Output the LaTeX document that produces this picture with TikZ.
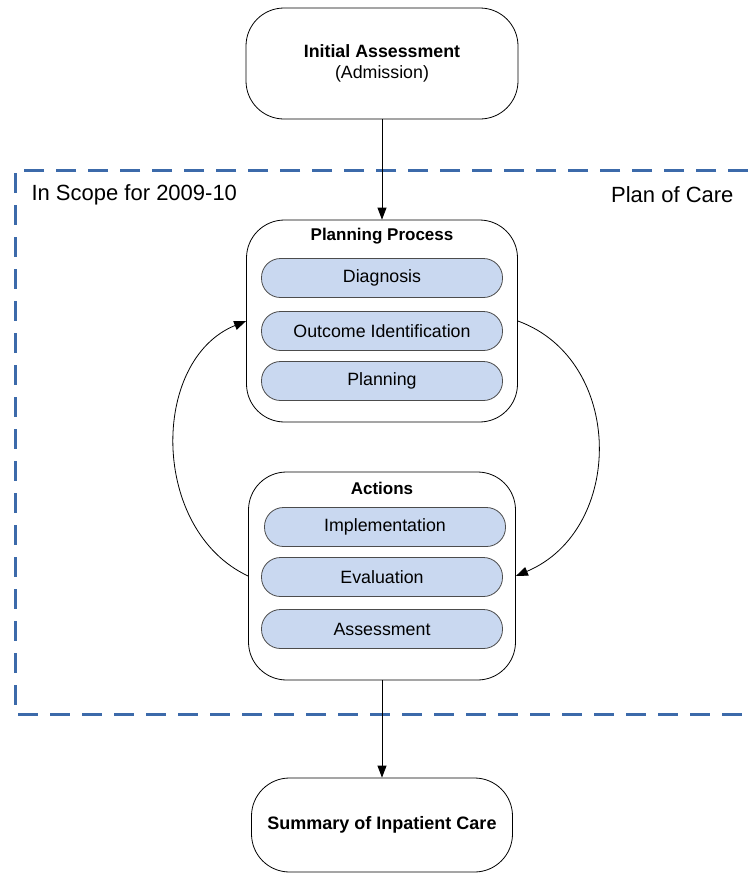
\documentclass[tikz,border=0pt]{standalone}
\usepackage{fontspec}
\setmainfont{Liberation Sans}
\usetikzlibrary{arrows.meta,positioning}

\definecolor{scopeblue}{RGB}{60,106,170}
\definecolor{pillblue}{RGB}{201,216,240}

\tikzset{
  stagebox/.style={draw, line width=0.8pt, rounded corners=38pt},
  pill/.style={draw=black!70, line width=0.8pt, fill=pillblue, rounded corners=19pt,
    minimum width=241pt, minimum height=39pt, font=\fontsize{17.8}{21}\selectfont},
  boxtitle/.style={font=\fontsize{17}{20}\selectfont\bfseries},
  flow/.style={line width=0.8pt, -{Triangle[length=12pt,width=9pt]}},
  scopeline/.style={draw=scopeblue, line width=3pt, dash pattern=on 20pt off 12pt}
}

\begin{document}
\begin{tikzpicture}[x=1pt,y=-1pt]
    \useasboundingbox[fill=white] (0,0) rectangle (748,873);

    % scope frame
    \draw [scopeline] (748,170) -- (15,170) -- (15,714) -- (748,714);
    \node [anchor=west, font=\fontsize{22}{26}\selectfont] (scopelbl) at (28,195) {In Scope for 2009-10};
    \node [anchor=east, font=\fontsize{22}{26}\selectfont] (carelbl) at (737,195) {Plan of Care};

    \node [stagebox, minimum width=272pt, minimum height=111pt, align=center,
      font=\fontsize{17.8}{21}\selectfont] (initial) at (382,63.5)
    {\textbf{Initial Assessment}\\(Admission)};

    % planning process
    \node [stagebox, minimum width=271pt, minimum height=202pt] (planbox) at (382,321) {};
    \node [boxtitle] (plantitle) at (382,236) {Planning Process};
    \node [pill] (diag) at (382,278) {Diagnosis};
    \node [pill] (outcome) at (382,331) {Outcome Identification};
    \node [pill] (planning) at (382,381) {Planning};

    % actions
    \node [stagebox, minimum width=267pt, minimum height=208pt] (actbox) at (382,576) {};
    \node [boxtitle] (acttitle) at (382,488) {Actions};
    \node [pill] (impl) at (385,527) {Implementation};
    \node [pill] (eval) at (382,577) {Evaluation};
    \node [pill] (assess) at (382,629) {Assessment};

    \node [stagebox, minimum width=261pt, minimum height=94pt,
      font=\fontsize{18}{21}\selectfont\bfseries] (summary) at (382,825)
    {Summary of Inpatient Care};

    \draw [flow] (initial.south) -- (planbox.north);
    \draw [flow] (actbox.south) -- (summary.north);
    \draw [flow] (actbox.west) .. controls (150,530) and (150,360) .. (planbox.west);
    \draw [flow] (planbox.east) .. controls (625,360) and (625,530) .. (actbox.east);
\end{tikzpicture}
\end{document}
